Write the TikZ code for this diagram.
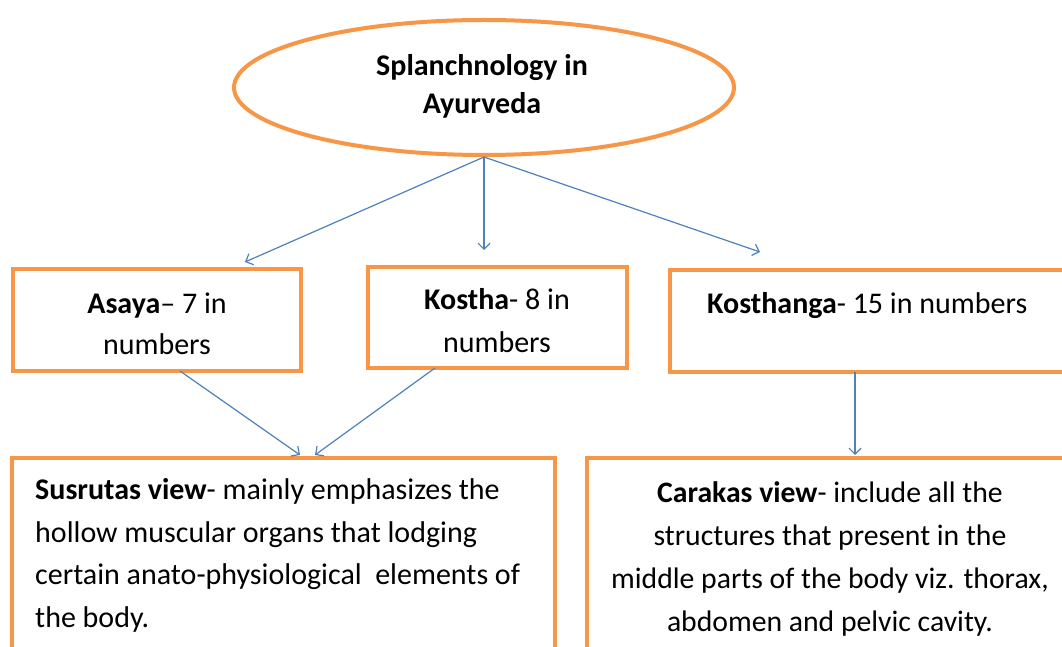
\documentclass[tikz,border=0pt]{standalone}
\usepackage{fontspec}
\setmainfont{Carlito}
\usetikzlibrary{shapes.geometric,arrows.meta}
\definecolor{obrd}{HTML}{F79646}
\definecolor{arr}{HTML}{4F81BD}
\begin{document}
\begin{tikzpicture}[x=1pt,y=-1pt,
  box/.style={draw=obrd,line width=4pt,rectangle,inner sep=0pt},
  txt/.style={inner sep=0pt,anchor=base},
  conn/.style={draw=arr,line width=1.2pt,-{Straight Barb[length=6pt,width=12pt]}}]
\useasboundingbox (0,0) rectangle (1062,647);
\clip (0,0) rectangle (1062,647);
\fill[white] (0,0) rectangle (1062,647);
% title ellipse
\node[ellipse,draw=obrd,line width=4pt,minimum width=500pt,minimum height=135pt,inner sep=0pt] (top) at (484,87.5) {};
\node[txt,align=center,font=\bfseries\fontsize{30}{38}\selectfont] (toptxt) at (482,114) {Splanchnology in\\Ayurveda};
% middle boxes
\node[box,minimum width=288pt,minimum height=102pt] (asaya) at (157,320) {};
\node[box,minimum width=259pt,minimum height=101pt] (kostha) at (497.5,317.5) {};
\node[box,minimum width=398pt,minimum height=102pt] (kosthanga) at (869,321) {};
\node[txt,align=center,font=\fontsize{30}{41}\selectfont] (asayatxt) at (157,354) {\textbf{Asaya}– 7 in\\numbers};
\node[txt,align=center,font=\fontsize{30}{43}\selectfont] (kosthatxt) at (497,352) {\textbf{Kostha}- 8 in\\numbers};
\node[txt,anchor=base west,font=\fontsize{30}{43}\selectfont] (kosthangatxt) at (707,313) {\textbf{Kosthanga}- 15 in numbers};
% bottom boxes
\node[box,minimum width=543pt,minimum height=207pt] (susrutas) at (283.5,561.5) {};
\node[box,minimum width=488pt,minimum height=207pt] (carakas) at (831,561.5) {};
\node[txt,align=left,anchor=base west,font=\fontsize{30}{42.5}\selectfont] (susrutastxt) at (35,627) {\textbf{Susrutas view}- mainly emphasizes the\\hollow muscular organs that lodging\\certain anato-physiological\ \ elements of\\the body.};
\node[txt,align=center,font=\fontsize{29.7}{43}\selectfont] (carakastxt) at (830,631) {\textbf{Carakas view}- include all the\\structures that present in the\\middle parts of the body viz. thorax,\\abdomen and pelvic cavity.};
% connectors
\coordinate (e1) at (245,262);
\coordinate (e2) at (484,250);
\coordinate (e3) at (760,252);
\coordinate (s1) at (180,371);
\coordinate (s2) at (435,368);
\coordinate (s3) at (855,372);
\coordinate (f1) at (300,455);
\coordinate (f2) at (315,455);
\coordinate (f3) at (855,455);
\draw[conn] (top.south) -- (e1);
\draw[conn] (top.south) -- (e2);
\draw[conn] (top.south) -- (e3);
\draw[conn] (s1) -- (f1);
\draw[conn] (s2) -- (f2);
\draw[conn] (s3) -- (f3);
\end{tikzpicture}
\end{document}
